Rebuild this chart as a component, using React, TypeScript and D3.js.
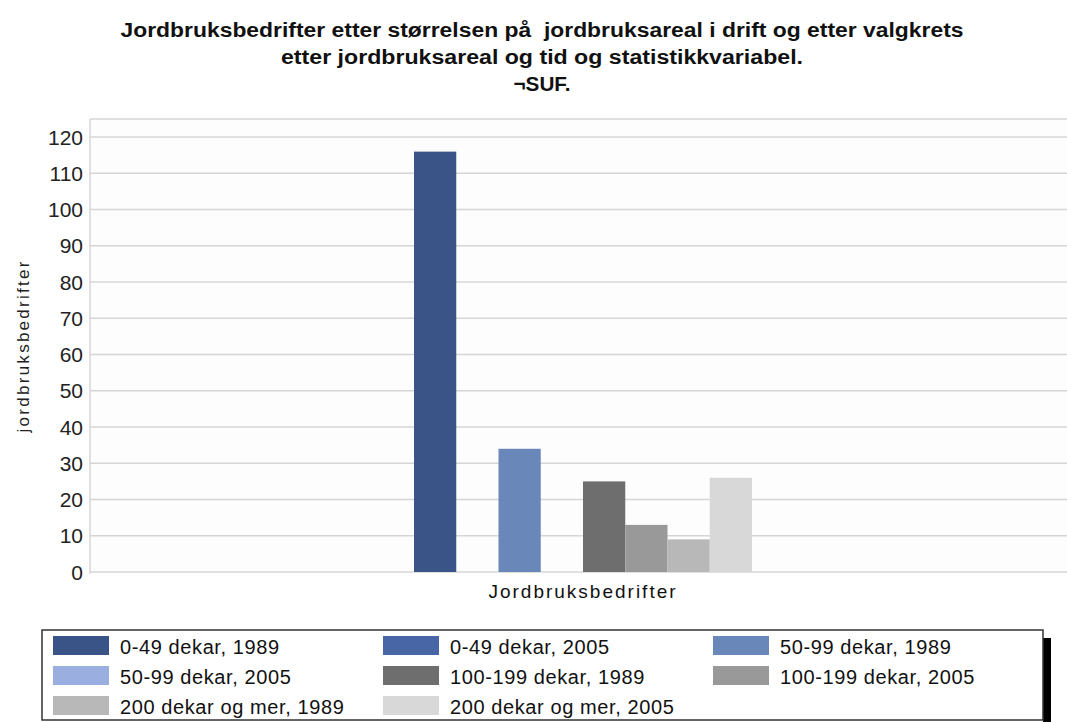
import React, { useEffect, useRef } from 'react';
import * as d3 from 'd3';

const titleLines = [
  'Jordbruksbedrifter etter størrelsen på  jordbruksareal i drift og etter valgkrets',
  'etter jordbruksareal og tid og statistikkvariabel.',
  '¬SUF.',
];
const category = 'Jordbruksbedrifter';
const seriesNames = [
  '0-49 dekar, 1989',
  '0-49 dekar, 2005',
  '50-99 dekar, 1989',
  '50-99 dekar, 2005',
  '100-199 dekar, 1989',
  '100-199 dekar, 2005',
  '200 dekar og mer, 1989',
  '200 dekar og mer, 2005',
];
// null = no bar shown
const seriesValues: (number | null)[] = [116, null, 34, null, 25, 13, 9, 26];
const seriesColors = [
  '#3b5487',
  '#4866a6',
  '#6a87ba',
  '#9aaee0',
  '#6e6e6e',
  '#999999',
  '#b8b8b8',
  '#d8d8d8',
];
const yTicks = [0, 10, 20, 30, 40, 50, 60, 70, 80, 90, 100, 110, 120];
const yTitle = 'jordbruksbedrifter';

const App: React.FC = () => {
  const svgRef = useRef<SVGSVGElement>(null);

  useEffect(() => {
    if (!svgRef.current) return;
    d3.select(svgRef.current).selectAll('*').remove();

    const W = 1067;
    const H = 722;
    const plot = { left: 90, right: 1076, top: 119, bottom: 572 };
    const font = '"Liberation Sans", Arial, sans-serif';

    const svg = d3.select(svgRef.current)
      .attr('width', W)
      .attr('height', H)
      .style('font-family', font);

    svg.append('rect').attr('width', W).attr('height', H).attr('fill', '#fff');

    // Title (condensed bold, fitted to the widths in the picture)
    const titleWidths = [843, 522, 57];
    svg.append('g')
      .selectAll('text')
      .data(titleLines)
      .enter().append('text')
      .attr('x', 542)
      .attr('y', (d, i) => 37 + i * 27)
      .attr('text-anchor', 'middle')
      .attr('font-size', 20)
      .attr('font-weight', 'bold')
      .attr('fill', '#111')
      .attr('textLength', (d, i) => titleWidths[i])
      .attr('lengthAdjust', 'spacingAndGlyphs')
      .style('white-space', 'pre')
      .text(d => d);

    // Scales
    const y = d3.scaleLinear()
      .domain([0, 125])
      .range([plot.bottom, plot.top]);

    const x0 = d3.scaleBand<string>()
      .domain([category])
      .range([plot.left, plot.right])
      .paddingInner(0)
      .paddingOuter(0.9586);

    const x1 = d3.scaleBand<string>()
      .domain(seriesNames)
      .range([0, x0.bandwidth()])
      .padding(0);

    // Plot background
    svg.append('rect')
      .attr('x', plot.left)
      .attr('y', plot.top)
      .attr('width', W - plot.left)
      .attr('height', plot.bottom - plot.top)
      .attr('fill', '#fdfdfd');

    // Grid lines
    svg.append('g')
      .selectAll('line')
      .data([...yTicks, 125])
      .enter().append('line')
      .attr('x1', plot.left)
      .attr('x2', W)
      .attr('y1', d => y(d))
      .attr('y2', d => y(d))
      .attr('stroke', '#d6d6d6')
      .attr('stroke-width', 1.5);

    // Left axis line
    svg.append('line')
      .attr('x1', plot.left)
      .attr('x2', plot.left)
      .attr('y1', plot.top)
      .attr('y2', plot.bottom + 2)
      .attr('stroke', '#d6d6d6')
      .attr('stroke-width', 1.5);

    // Y tick labels
    svg.append('g')
      .selectAll('text')
      .data(yTicks)
      .enter().append('text')
      .attr('x', 83)
      .attr('y', d => y(d))
      .attr('dy', '0.36em')
      .attr('text-anchor', 'end')
      .attr('font-size', 21)
      .attr('fill', '#222')
      .text(d => d);

    // Y axis title
    svg.append('text')
      .attr('transform', 'translate(29,347) rotate(-90)')
      .attr('text-anchor', 'middle')
      .attr('font-size', 17)
      .attr('fill', '#222')
      .attr('textLength', 171)
      .attr('lengthAdjust', 'spacing')
      .text(yTitle);

    // Bars
    const group = svg.append('g')
      .attr('transform', `translate(${x0(category)},0)`);

    group.selectAll('rect')
      .data(seriesNames.map((name, i) => ({ name, value: seriesValues[i], color: seriesColors[i] })))
      .enter()
      .filter(d => d.value !== null)
      .append('rect')
      .attr('x', d => x1(d.name) as number)
      .attr('y', d => y(d.value as number))
      .attr('width', x1.bandwidth())
      .attr('height', d => y(0) - y(d.value as number))
      .attr('fill', d => d.color);

    // X category label
    svg.append('text')
      .attr('x', (x0(category) as number) + x0.bandwidth() / 2)
      .attr('y', 598)
      .attr('text-anchor', 'middle')
      .attr('font-size', 19)
      .attr('letter-spacing', 2)
      .attr('fill', '#111')
      .text(category);

    // Legend
    const legendBox = { x: 42, y: 630, w: 1001, h: 90 };
    svg.append('rect')
      .attr('x', legendBox.x + legendBox.w)
      .attr('y', legendBox.y + 8)
      .attr('width', 8)
      .attr('height', H)
      .attr('fill', '#000');
    svg.append('rect')
      .attr('x', legendBox.x)
      .attr('y', legendBox.y)
      .attr('width', legendBox.w)
      .attr('height', legendBox.h)
      .attr('fill', '#fff')
      .attr('stroke', '#333')
      .attr('stroke-width', 1.5);

    const legend = svg.append('g')
      .selectAll('g')
      .data(seriesNames)
      .enter().append('g')
      .attr('transform', (d, i) => `translate(${53 + (i % 3) * 330},${636 + Math.floor(i / 3) * 30})`);

    legend.append('rect')
      .attr('width', 56)
      .attr('height', 19)
      .attr('fill', (d, i) => seriesColors[i]);

    legend.append('text')
      .attr('x', 67)
      .attr('y', 18)
      .attr('font-size', 20)
      .attr('letter-spacing', 0.6)
      .attr('fill', '#111')
      .text(d => d);
  }, []);

  return <svg ref={svgRef} style={{ position: 'absolute', left: 0, top: 0 }}></svg>;
};

export default App;
